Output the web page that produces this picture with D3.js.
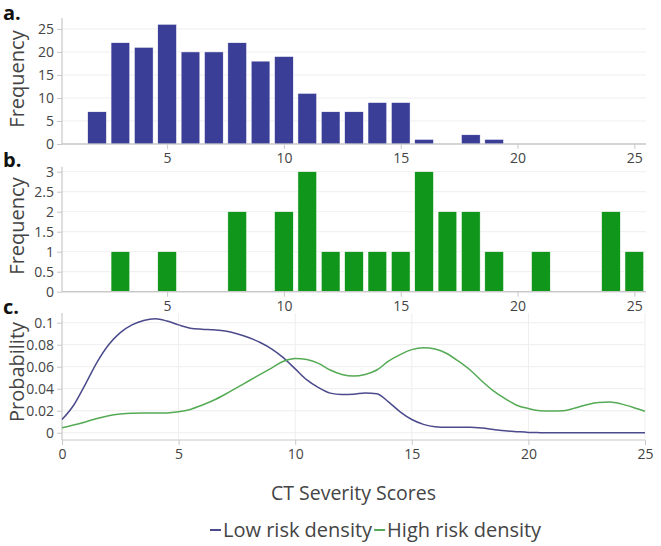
<!DOCTYPE html>
<html><head><meta charset="utf-8">
<script src="https://cdn.jsdelivr.net/npm/d3@7"></script>
<style>
html,body{margin:0;padding:0;background:#fff;}
svg{display:block;font-family:"Open Sans",sans-serif;}
</style></head>
<body>
<svg id="chart" width="661" height="546"></svg>
<script>
// ---- data ----
const lowScores = [2,3,4,5,6,7,8,9,10,11,12,13,14,15,16,17,18,19];
const lowFreq   = [7,22,21,26,20,20,22,18,19,11,7,7,9,9,1,0,2,1];
const highScores = [3,5,8,10,11,12,13,14,15,16,17,18,19,21,24,25];
const highFreq   = [1,1,2,2,3,1,1,1,1,3,2,2,1,1,2,1];
const densX = [0,0.5,1,1.5,2,2.5,3,3.5,4,4.5,5,5.5,6,6.5,7,7.5,8,8.5,9,9.5,10,10.5,11,11.5,12,12.5,13,13.5,14,14.5,15,15.5,16,16.5,17,17.5,18,18.5,19,19.5,20,20.5,21,21.5,22,22.5,23,23.5,24,24.5,25];
const lowDensity = [0.012,0.025,0.044,0.064,0.080,0.091,0.098,0.102,0.1035,0.1015,0.098,0.095,0.094,0.0935,0.0925,0.090,0.0865,0.082,0.076,0.068,0.058,0.048,0.041,0.036,0.0348,0.035,0.0362,0.0355,0.028,0.019,0.012,0.0076,0.0055,0.005,0.005,0.0049,0.0042,0.003,0.0018,0.001,0.0003,0.0001,0,0,0,0,0,0,0,0,0];
const highDensity = [0.0045,0.007,0.0098,0.013,0.0155,0.017,0.0178,0.018,0.018,0.018,0.019,0.0212,0.025,0.0295,0.035,0.041,0.047,0.053,0.059,0.065,0.0675,0.0665,0.063,0.057,0.053,0.0515,0.053,0.057,0.065,0.071,0.0755,0.0772,0.076,0.072,0.065,0.057,0.047,0.038,0.031,0.025,0.022,0.020,0.0197,0.020,0.0225,0.0255,0.0275,0.0279,0.026,0.023,0.0195];
const xTicks = [5,10,15,20,25];
const xTicksC = [0,5,10,15,20,25];
const yTicksA = [0,5,10,15,20,25];
const yTicksB = [0,0.5,1,1.5,2,2.5,3];
const yTicksC = [0,0.02,0.04,0.06,0.08,0.1];
const panelLabels = ["a.","b.","c."];
const seriesNames = ["Low risk density","High risk density"];

// ---- styles ----
const blueBar = "#3a3e97", greenBar = "#10961a";
const blueLine = "#4a4a8c", greenLine = "#55aa55";
const textCol = "#444", axisCol = "#c8c8c8", gridCol = "#eeeeee";

const svg = d3.select("#chart");
const L = 62;

const xAB = d3.scaleLinear().domain([0.5,25.5]).range([L,646]);
const xC = d3.scaleLinear().domain([0,25]).range([L,645]);

const yA = d3.scaleLinear().domain([0,27.37]).range([144,18]);
const yB = d3.scaleLinear().domain([0,3.125]).range([291.7,166.7]);
const yC = d3.scaleLinear().domain([-0.0066,0.1088]).range([440,313]);

function fmt(v){ return d3.format("~g")(v); }

function drawPanel(x, y, yTicks, xt, vgrid){
  const g = svg.append("g");
  const [x0,x1] = x.range(); const [yb,yt] = y.range();
  g.selectAll(".hg").data(yTicks.filter(t=>t!==0 || vgrid)).enter().append("line")
    .attr("x1",x0).attr("x2",x1).attr("y1",d=>y(d)).attr("y2",d=>y(d))
    .attr("stroke",gridCol).attr("stroke-width",1);
  if(vgrid){
    g.selectAll(".vg").data(xt.filter(t=>t>0)).enter().append("line")
      .attr("x1",d=>x(d)).attr("x2",d=>x(d)).attr("y1",yb).attr("y2",yt)
      .attr("stroke",gridCol).attr("stroke-width",1);
  }
  const ya = d3.axisLeft(y).tickValues(yTicks).tickSize(5).tickPadding(3).tickFormat(fmt);
  const yg = svg.append("g").attr("transform",`translate(${x0},0)`).call(ya);
  const xa = d3.axisBottom(x).tickValues(xt).tickSize(5).tickPadding(4).tickFormat(fmt);
  const xg = svg.append("g").attr("transform",`translate(0,${yb})`).call(xa);
  [yg,xg].forEach(a=>{
    a.select(".domain").attr("stroke",axisCol).attr("stroke-width",1.2);
    a.selectAll(".tick line").attr("stroke",axisCol);
    a.selectAll(".tick text").attr("fill",textCol).style("font-size","14px").style("font-family","Open Sans");
  });
  yg.select(".domain").attr("d",`M0,${yb}V${yt}`);
  xg.select(".domain").attr("d",`M${x0},0H${x1}`);
  return g;
}

drawPanel(xAB, yA, yTicksA, xTicks, false);
drawPanel(xAB, yB, yTicksB, xTicks, false);
drawPanel(xC, yC, yTicksC, xTicksC, true);

const bw = (xAB(1)-xAB(0))*0.8;
svg.append("g").selectAll("rect").data(lowScores.map((s,i)=>({s,v:lowFreq[i]})).filter(d=>d.v>0))
  .enter().append("rect")
  .attr("x",d=>xAB(d.s)-bw/2).attr("width",bw)
  .attr("y",d=>yA(d.v)).attr("height",d=>yA(0)-yA(d.v))
  .attr("fill",blueBar).attr("stroke","#fff").attr("stroke-width",0.5);
svg.append("g").selectAll("rect").data(highScores.map((s,i)=>({s,v:highFreq[i]})))
  .enter().append("rect")
  .attr("x",d=>xAB(d.s)-bw/2).attr("width",bw)
  .attr("y",d=>yB(d.v)).attr("height",d=>yB(0)-yB(d.v))
  .attr("fill",greenBar).attr("stroke","#fff").attr("stroke-width",0.5);

[[xAB,yA],[xAB,yB]].forEach(([x,y])=>{
  svg.append("line").attr("x1",x.range()[0]).attr("x2",x.range()[1])
    .attr("y1",y(0)).attr("y2",y(0)).attr("stroke",axisCol).attr("stroke-width",1.2);
});

const line = (arr)=> d3.line().x((d,i)=>xC(densX[i])).y(d=>yC(d)).curve(d3.curveMonotoneX)(arr);
svg.append("path").attr("d",line(lowDensity)).attr("fill","none").attr("stroke",blueLine).attr("stroke-width",1.5);
svg.append("path").attr("d",line(highDensity)).attr("fill","none").attr("stroke",greenLine).attr("stroke-width",1.5);

// panel labels
const lab = [[3,20],[3,167],[3,314]];
panelLabels.forEach((t,i)=>{
  svg.append("text").attr("x",lab[i][0]).attr("y",lab[i][1]).text(t)
    .attr("fill","#111").style("font-size","20px").style("font-weight","bold");
});
// y titles
[["Frequency",79],["Frequency",226],["Probability",372]].forEach(([t,cy])=>{
  svg.append("text").attr("transform",`translate(24,${cy}) rotate(-90)`).attr("text-anchor","middle")
    .text(t).attr("fill",textCol).style("font-size","20px");
});
// x title
svg.append("text").attr("x",(62+645)/2).attr("y",500).attr("text-anchor","middle")
  .text("CT Severity Scores").attr("fill",textCol).style("font-size","19.5px");

// legend
const lg = svg.append("g").attr("transform","translate(210,537)");
let cx = 0;
seriesNames.forEach((n,i)=>{
  lg.append("line").attr("x1",cx).attr("x2",cx+11).attr("y1",-7).attr("y2",-7)
    .attr("stroke",i===0?blueLine:greenLine).attr("stroke-width",2);
  const t = lg.append("text").attr("x",cx+13).attr("y",0).text(n).attr("fill",textCol).style("font-size","20px");
  cx += 13 + t.node().getComputedTextLength() + 2;
});
</script>
</body></html>
